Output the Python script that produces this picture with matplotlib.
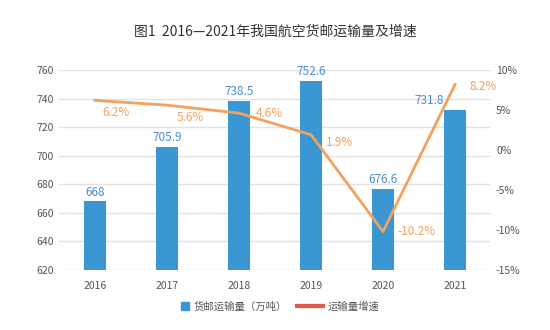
import numpy as np
import matplotlib
matplotlib.use("Agg")
import matplotlib.pyplot as plt
from matplotlib.lines import Line2D

plt.rcParams['font.family'] = ['Noto Sans CJK SC', 'DejaVu Sans']

years = ['2016', '2017', '2018', '2019', '2020', '2021']
volume = [668, 705.9, 738.5, 752.6, 676.6, 731.8]
growth = [6.2, 5.6, 4.6, 1.9, -10.2, 8.2]
volume_labels = ['668', '705.9', '738.5', '752.6', '676.6', '731.8']

bar_color = '#3b97d3'
label_blue = '#4a8ed0'
line_color = '#f2a15f'
legend_red = '#e8574b'
grid_color = '#e3e3e3'
tick_color = '#555555'

fig = plt.figure(figsize=(5.5, 3.3), dpi=100)
ax = fig.add_axes([0.107, 0.182, 0.786, 0.606])
ax2 = ax.twinx()

x = np.arange(len(years))
ax.bar(x, volume, width=0.31, color=bar_color, zorder=2)
ax.set_ylim(620, 760)
ax.set_yticks(np.arange(620, 761, 20))
ax.set_xlim(-0.5, len(years) - 0.5)
ax.set_xticks(x)
ax.set_xticklabels(years)
ax.grid(axis='y', color=grid_color, linewidth=1, zorder=0)
ax.set_axisbelow(True)

# 柱子标签 (2021 的标签往左, 避开折线)
bar_dx = [0, 0, 0, 0, 0, -0.36]
for i, v in enumerate(volume):
    ax.text(x[i] + bar_dx[i], v + 2, volume_labels[i], ha='center', va='bottom',
            fontsize=8.5, color=label_blue)

ax2.plot(x, growth, color=line_color, linewidth=2, zorder=3)
ax2.set_ylim(-15, 10)
ax2.set_yticks(np.arange(-15, 11, 5))
ax2.set_yticklabels([f'{t}%' for t in range(-15, 11, 5)])

# 折线数据标签的偏移 (数据单位)
offsets = [(0.3, -1.5), (0.32, -1.6), (0.42, 0.0), (0.39, -1.0), (0.46, 0.0), (0.39, -0.3)]
for i, g in enumerate(growth):
    dx, dy = offsets[i]
    ax2.text(x[i] + dx, g + dy, f'{g}%', ha='center', va='center',
             fontsize=8.5, color=line_color)

for a in (ax, ax2):
    for s in a.spines.values():
        s.set_visible(False)
    a.tick_params(length=0, labelsize=7.5, colors=tick_color)
ax.tick_params(axis='x', pad=8)

fig.text(0.5, 0.905, '图1  2016—2021年我国航空货邮运输量及增速', ha='center',
         va='center', fontsize=10, color='#333333')

# 图例分两块画, 方块和线条的长度不同
leg1 = fig.legend([Line2D([], [], marker='s', linestyle='none', color=bar_color, markersize=6)],
                  ['货邮运输量（万吨）'], loc='center', bbox_to_anchor=(0.425, 0.07),
                  frameon=False, fontsize=7.5, handlelength=0.8, handletextpad=0.4,
                  labelcolor=tick_color)
fig.legend([Line2D([0], [0], color=legend_red, linewidth=3)], ['运输量增速'],
           loc='center', bbox_to_anchor=(0.615, 0.07), frameon=False, fontsize=7.5,
           handlelength=2.5, handletextpad=0.5, labelcolor=tick_color)

fig.savefig('out.png', dpi=100, facecolor='white')
